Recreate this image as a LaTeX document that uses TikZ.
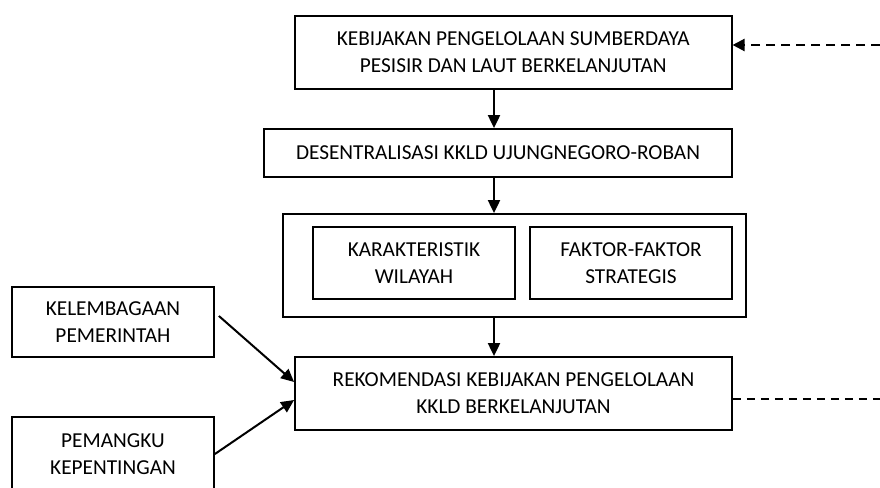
\documentclass[tikz,border=0pt]{standalone}
\usepackage{fontspec}
\setmainfont{Carlito}
\usetikzlibrary{arrows.meta}
\begin{document}
\begin{tikzpicture}[x=1pt,y=-1pt,
  box/.style={draw=black,line width=1.8pt,rectangle,inner sep=0pt,align=center,
    font=\fontsize{21.3}{27}\selectfont},
  conn/.style={line width=2pt,-{Triangle[length=13pt,width=12pt]}},
  fb/.style={line width=2.2pt,dash pattern=on 9pt off 6pt,-{Triangle[length=12pt,width=12pt]}},
  fbl/.style={line width=1.5pt,dash pattern=on 8pt off 6pt}]
\useasboundingbox (0,0) rectangle (880,487);
\node[box,minimum width=436.7pt,minimum height=73.3pt] (top) at (513.3,52.4)
  {KEBIJAKAN PENGELOLAAN SUMBERDAYA\\PESISIR DAN LAUT BERKELANJUTAN};
\node[box,minimum width=468pt,minimum height=48pt] (des) at (498,153)
  {DESENTRALISASI KKLD UJUNGNEGORO-ROBAN};
\node[box,minimum width=463pt,minimum height=103pt] (outer) at (514.5,265.5) {};
\node[box,minimum width=202pt,minimum height=72pt] (kar) at (414,263)
  {KARAKTERISTIK\\WILAYAH};
\node[box,minimum width=202pt,minimum height=72pt] (fak) at (631,263)
  {FAKTOR-FAKTOR\\STRATEGIS};
\node[box,minimum width=437pt,minimum height=73pt] (rek) at (513.5,393.5)
  {REKOMENDASI KEBIJAKAN PENGELOLAAN\\KKLD BERKELANJUTAN};
\node[box,minimum width=202pt,minimum height=70pt] (kel) at (113,322)
  {KELEMBAGAAN\\PEMERINTAH};
\node[box,minimum width=202pt,minimum height=74pt] (pem) at (113,454)
  {PEMANGKU\\KEPENTINGAN};
\coordinate (ax) at (494,0);
\coordinate (fbin) at (880,45);
\coordinate (fbout) at (880,399);
\coordinate (kin) at (0,382);
\coordinate (pin) at (0,400);
\coordinate (kout) at (0,316);
\coordinate (pout) at (0,454);
\draw[conn] (top.south -| ax) -- (des.north -| ax);
\draw[conn] (des.south -| ax) -- (outer.north -| ax);
\draw[conn] (outer.south -| ax) -- (rek.north -| ax);
\draw[conn] ([xshift=4pt]kel.east |- kout) -- (rek.west |- kin);
\draw[conn] (pem.east |- pout) -- (rek.west |- pin);
\draw[fb] (fbin) -- (top.east |- fbin);
\draw[fbl] (rek.east |- fbout) -- (fbout);
\end{tikzpicture}
\end{document}
